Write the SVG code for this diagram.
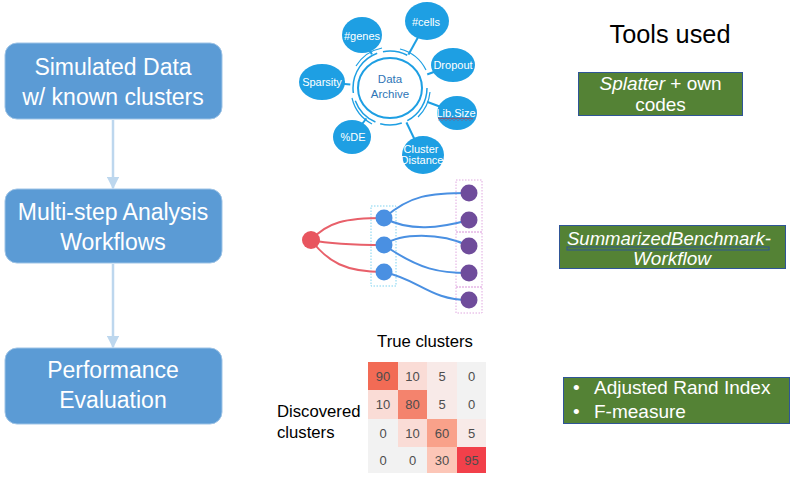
<svg xmlns="http://www.w3.org/2000/svg" width="796" height="482" viewBox="0 0 796 482">
<defs>
<style>
text{font-family:"Liberation Sans",Arial,sans-serif}
.step rect{fill:#5B9BD5;stroke:#9DC3E6;stroke-width:1}
.step text{fill:#fff;font-size:23px;text-anchor:middle}
.flow{stroke:#BDD7EE;stroke-width:2.5;fill:none;marker-end:url(#ah)}
.bub ellipse{fill:#1E9FE3}
.bub text{fill:#fff;font-size:11px;text-anchor:middle}
.spoke{stroke:#1E9FE3;stroke-width:2;fill:none}
.red{stroke:#E8606A;stroke-width:2;fill:none}
.blu{stroke:#4A90E2;stroke-width:2;fill:none}
.tool rect{fill:#548235;stroke:#2F5597;stroke-width:1}
.tool text{fill:#fff;font-size:19px}
.hm text{font-size:13px;fill:#4d4d4d;text-anchor:middle}
</style>
<marker id="ah" viewBox="0 0 10 10" refX="9" refY="5" markerWidth="5" markerHeight="5" orient="auto" markerUnits="strokeWidth">
<path d="M0,0 L10,5 L0,10 z" fill="#BDD7EE"/>
</marker>
<pattern id="sq" width="4" height="3" patternUnits="userSpaceOnUse">
<path d="M0,2.5 L2,0.5 L4,2.5" stroke="#D82020" stroke-width="1" fill="none"/>
</pattern>
</defs>

<g id="connectors">
<path class="flow" d="M113,120 V188"/>
<path class="flow" d="M113,264 V347"/>
</g>

<g id="step1" class="step">
<rect x="5" y="43" width="217" height="76" rx="12"/>
<text x="113" y="75">Simulated Data</text>
<text x="113" y="105">w/ known clusters</text>
</g>
<g id="step2" class="step">
<rect x="5" y="189" width="217" height="74" rx="12"/>
<text x="113" y="220">Multi-step Analysis</text>
<text x="113" y="250">Workflows</text>
</g>
<g id="step3" class="step">
<rect x="5" y="348" width="217" height="76" rx="12"/>
<text x="113" y="378">Performance</text>
<text x="113" y="408">Evaluation</text>
</g>

<g id="data-archive">
<g id="spokes">
<line class="spoke" x1="390" y1="88" x2="362" y2="36"/>
<line class="spoke" x1="390" y1="88" x2="427" y2="21"/>
<line class="spoke" x1="390" y1="88" x2="453" y2="65"/>
<line class="spoke" x1="390" y1="88" x2="322" y2="82"/>
<line class="spoke" x1="390" y1="88" x2="457" y2="113"/>
<line class="spoke" x1="390" y1="88" x2="352" y2="137"/>
<line class="spoke" x1="390" y1="88" x2="422" y2="155"/>
</g>
<ellipse cx="390" cy="88" rx="40" ry="38" fill="#fff"/>
<ellipse cx="390" cy="88" rx="32" ry="30" fill="#fff" stroke="#1E9FE3" stroke-width="2"/>
<circle cx="390" cy="88" r="37" fill="none" stroke="#1E9FE3" stroke-width="1.5" stroke-dasharray="40 6 22 5 30 8 50 6 25 40"/>
<path d="M356,66 A40,40 0 0 1 382,48" fill="none" stroke="#1E9FE3" stroke-width="1.2"/>
<path d="M400,49 A40,40 0 0 1 426,70" fill="none" stroke="#1E9FE3" stroke-width="1.2"/>
<path d="M352,98 A40,40 0 0 0 372,124" fill="none" stroke="#1E9FE3" stroke-width="1.2"/>
<path d="M430,92 A40,40 0 0 1 418,117" fill="none" stroke="#1E9FE3" stroke-width="1.2"/>
<text x="390" y="83" font-size="11.5" fill="#2E75B6" text-anchor="middle">Data</text>
<text x="390" y="98" font-size="11.5" fill="#2E75B6" text-anchor="middle">Archive</text>
</g>
<g id="b-genes" class="bub"><ellipse cx="362" cy="35" rx="20" ry="18"/><text x="362" y="39.5">#genes</text></g>
<g id="b-cells" class="bub"><ellipse cx="427" cy="21" rx="22" ry="19"/><text x="426" y="26" font-size="11.5">#cells</text></g>
<g id="b-dropout" class="bub"><ellipse cx="453" cy="65" rx="22" ry="17"/><text x="453" y="68.5">Dropout</text></g>
<g id="b-sparsity" class="bub"><ellipse cx="322" cy="82" rx="23" ry="18"/><text x="322" y="85.5" font-size="10.2">Sparsity</text></g>
<g id="b-libsize" class="bub"><ellipse cx="457" cy="113" rx="20" ry="17"/><text x="456" y="116.5" font-size="10">Lib.Size</text><rect x="438" y="117.5" width="35" height="3" fill="url(#sq)"/></g>
<g id="b-de" class="bub"><ellipse cx="352" cy="137" rx="19" ry="17"/><text x="353" y="141" font-size="11.5">%DE</text></g>
<g id="b-cluster" class="bub"><ellipse cx="423" cy="155" rx="21" ry="19"/><text x="421" y="152.5" font-size="8.3">Cluster</text><text x="422" y="163.5" font-size="8.3">Distance</text></g>

<g id="workflow">
<rect x="371" y="206" width="25" height="80" fill="none" stroke="#7FD3F0" stroke-width="1" stroke-dasharray="1.5 1.5"/>
<rect x="456" y="180" width="26" height="52" fill="none" stroke="#E0A8E0" stroke-width="1" stroke-dasharray="1.5 1.5"/>
<rect x="456" y="232" width="26" height="55" fill="none" stroke="#E0A8E0" stroke-width="1" stroke-dasharray="1.5 1.5"/>
<rect x="456" y="287" width="26" height="26" fill="none" stroke="#E0A8E0" stroke-width="1" stroke-dasharray="1.5 1.5"/>
<path class="red" d="M311,240 C328,222 345,218 384,218"/>
<path class="red" d="M311,240 C330,244 350,245 384,245"/>
<path class="red" d="M311,240 C328,262 345,272 384,272"/>
<path class="blu" d="M384,218 C410,195 430,193 469,193"/>
<path class="blu" d="M384,218 C410,232 440,228 469,220"/>
<path class="blu" d="M384,245 C400,233 440,232 469,246"/>
<path class="blu" d="M384,245 C420,270 440,273 469,273"/>
<path class="blu" d="M384,272 C420,280 430,300 469,300"/>
<circle cx="311" cy="240" r="9" fill="#E8555F"/>
<circle cx="384" cy="218" r="8.5" fill="#4A90E2"/>
<circle cx="384" cy="245" r="8.5" fill="#4A90E2"/>
<circle cx="384" cy="272" r="8.5" fill="#4A90E2"/>
<circle cx="469" cy="193" r="8.5" fill="#6F4C9B"/>
<circle cx="469" cy="220" r="8.5" fill="#6F4C9B"/>
<circle cx="469" cy="246" r="8.5" fill="#6F4C9B"/>
<circle cx="469" cy="273" r="8.5" fill="#6F4C9B"/>
<circle cx="469" cy="300" r="8.5" fill="#6F4C9B"/>
</g>

<g id="heatmap" class="hm">
<text x="425" y="347" style="text-anchor:middle;fill:#000;font-size:16.7px">True clusters</text>
<text x="277" y="417" style="text-anchor:start;fill:#000;font-size:16.7px">Discovered</text>
<text x="277" y="438" style="text-anchor:start;fill:#000;font-size:16.7px">clusters</text>
<rect x="368" y="362" width="30" height="28" fill="#F26B55"/>
<rect x="398" y="362" width="29" height="28" fill="#FADCD6"/>
<rect x="427" y="362" width="30" height="28" fill="#F8EAE8"/>
<rect x="457" y="362" width="29" height="28" fill="#F2F2F2"/>
<rect x="368" y="390" width="30" height="29" fill="#FADCD6"/>
<rect x="398" y="390" width="29" height="29" fill="#F4836D"/>
<rect x="427" y="390" width="30" height="29" fill="#F8EAE8"/>
<rect x="457" y="390" width="29" height="29" fill="#F2F2F2"/>
<rect x="368" y="419" width="30" height="28" fill="#F2F2F2"/>
<rect x="398" y="419" width="29" height="28" fill="#FADCD6"/>
<rect x="427" y="419" width="30" height="28" fill="#F9A18A"/>
<rect x="457" y="419" width="29" height="28" fill="#F8EAE8"/>
<rect x="368" y="447" width="30" height="26" fill="#F2F2F2"/>
<rect x="398" y="447" width="29" height="26" fill="#F2F2F2"/>
<rect x="427" y="447" width="30" height="26" fill="#FCC6B7"/>
<rect x="457" y="447" width="29" height="26" fill="#F2404A"/>
<text x="383" y="381">90</text><text x="412.5" y="381">10</text><text x="442" y="381">5</text><text x="471.5" y="381">0</text>
<text x="383" y="409">10</text><text x="412.5" y="409">80</text><text x="442" y="409">5</text><text x="471.5" y="409">0</text>
<text x="383" y="438">0</text><text x="412.5" y="438">10</text><text x="442" y="438">60</text><text x="471.5" y="438">5</text>
<text x="383" y="465">0</text><text x="412.5" y="465">0</text><text x="442" y="465">30</text><text x="471.5" y="465">95</text>
</g>

<g id="tools-title"><text x="670" y="43" font-size="25.3" text-anchor="middle" fill="#000">Tools used</text></g>
<g id="tool1" class="tool">
<rect x="578.5" y="72.5" width="164" height="43"/>
<text x="660.5" y="89.5" text-anchor="middle"><tspan font-style="italic">Splatter</tspan> + own</text>
<text x="660.5" y="111" text-anchor="middle">codes</text>
</g>
<g id="tool2" class="tool">
<rect x="559.5" y="225.5" width="226" height="43"/>
<text x="669" y="245" text-anchor="middle" font-style="italic" textLength="204" lengthAdjust="spacingAndGlyphs">SummarizedBenchmark-</text>
<rect x="567" y="247" width="202" height="3" fill="url(#sq)"/>
<text x="672" y="265" text-anchor="middle" font-style="italic">Workflow</text>
</g>
<g id="tool3" class="tool">
<rect x="563.5" y="377.5" width="226" height="46"/>
<text x="573" y="394">•</text>
<text x="594" y="394">Adjusted Rand Index</text>
<text x="573" y="418">•</text>
<text x="594" y="418">F-measure</text>
</g>
</svg>
